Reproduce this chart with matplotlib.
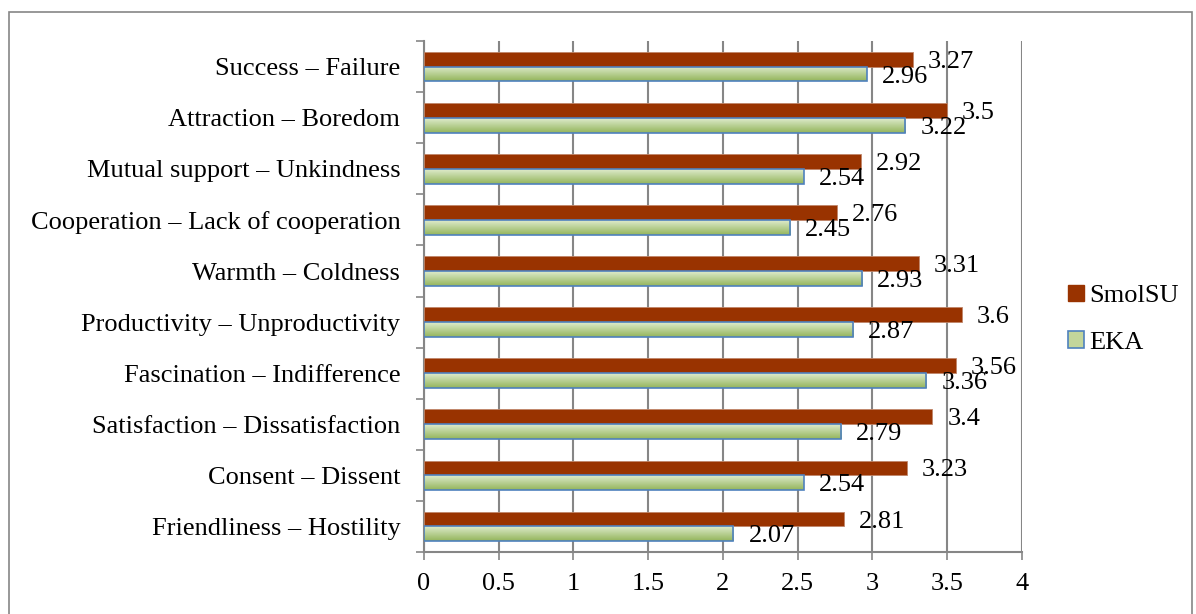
import numpy as np
import matplotlib.pyplot as plt
from matplotlib.patches import Rectangle, Patch

plt.rcParams['font.family'] = ['Liberation Serif', 'DejaVu Serif']

# categories, top to bottom
categories = ['Success – Failure', 'Attraction – Boredom', 'Mutual support – Unkindness',
              'Cooperation – Lack of cooperation', 'Warmth – Coldness',
              'Productivity – Unproductivity', 'Fascination – Indifference',
              'Satisfaction – Dissatisfaction', 'Consent – Dissent', 'Friendliness – Hostility']
smolsu = [3.27, 3.5, 2.92, 2.76, 3.31, 3.6, 3.56, 3.4, 3.23, 2.81]
eka = [2.96, 3.22, 2.54, 2.45, 2.93, 2.87, 3.36, 2.79, 2.54, 2.07]
xticks = [0, 0.5, 1, 1.5, 2, 2.5, 3, 3.5, 4]

red = '#993300'
green_top = np.array([0.87, 0.92, 0.80])
green_bot = np.array([0.58, 0.71, 0.36])
blue = '#4f81bd'
fs = 19

fig = plt.figure(figsize=(11.96, 6.14), dpi=100)
ax = fig.add_axes([0.3545, 0.101, 0.5, 0.832])

n = len(categories)
y = np.arange(n)
h = 0.29

ax.barh(y - h / 2, smolsu, height=h, color=red, edgecolor='#c0866a', linewidth=0.6, zorder=3)

# gradient fill for EKA bars
grad = np.linspace(0, 1, 50)[:, None, None]
img = green_top * (1 - grad) + green_bot * grad
for yi, v in zip(y, eka):
    r = Rectangle((0, yi), v, h, facecolor='none', edgecolor=blue, linewidth=1.2, zorder=4)
    ax.add_patch(r)
    im = ax.imshow(img, extent=(0, v, yi + h, yi), aspect='auto', zorder=3)
    im.set_clip_path(r)

for yi, a, b in zip(y, smolsu, eka):
    ax.text(a + 0.1, yi - h / 2, str(a), fontsize=fs, va='center_baseline', ha='left', zorder=5)
    ax.text(b + 0.1, yi + h / 2, str(b), fontsize=fs, va='center_baseline', ha='left', zorder=5)

ax.set_xlim(0, 4)
ax.set_ylim(n - 0.5, -0.5)
ax.set_xticks(xticks)
ax.set_xticklabels([f'{t:g}' for t in xticks], fontsize=fs)
ax.set_yticks(np.arange(n + 1) - 0.5)
ax.set_yticklabels([])
ax.set_yticks(y, minor=True)
ax.set_yticklabels(categories, minor=True, fontsize=fs, va='center_baseline')
ax.tick_params(axis='y', which='minor', length=0, pad=17)
ax.tick_params(axis='y', which='major', length=6, color='#868686', width=1.2, direction='out')
ax.tick_params(axis='x', length=6, color='#868686', width=1.2, direction='out', pad=9)
ax.grid(axis='x', color='#868686', linewidth=1.5, zorder=0)
ax.set_axisbelow(True)
for s in ['top', 'right']:
    ax.spines[s].set_visible(False)
for s in ['left', 'bottom']:
    ax.spines[s].set_color('#868686')
    ax.spines[s].set_linewidth(1.5)

handles = [Patch(facecolor=red, edgecolor=red),
           Patch(facecolor='#c3d69b', edgecolor=blue, linewidth=1.2)]
fig.legend(handles, ['SmolSU', 'EKA'], loc='center left', bbox_to_anchor=(0.873, 0.48),
           frameon=False, fontsize=fs, handlelength=0.6, handleheight=0.6,
           handletextpad=0.2, labelspacing=0.9)

fig.patches.append(Rectangle((9 / 1196, -0.1), 1183 / 1196, 1.1 - 12 / 614,
                             transform=fig.transFigure, fill=False,
                             edgecolor='#868686', linewidth=1.2))

fig.savefig('out.png', dpi=100)
